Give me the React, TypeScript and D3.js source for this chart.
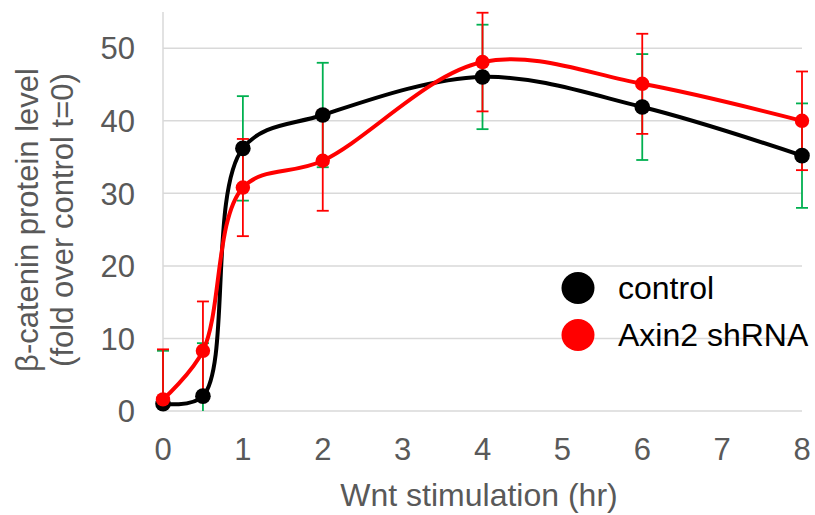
import React from "react";
import * as d3 from "d3";

// Time points (hours of Wnt stimulation)
const hours = [0, 0.5, 1, 2, 4, 6, 8];

// β-catenin level, fold over control at t=0
const controlValues = [1.0, 2.05, 36.2, 40.8, 46.05, 41.9, 35.2];
const controlErrors = [7.3, 7.3, 7.2, 7.2, 7.2, 7.3, 7.2];
const shrnaValues = [1.6, 8.3, 30.8, 34.5, 48.1, 45.1, 40.0];
const shrnaErrors = [6.9, 6.8, 6.7, 6.9, 6.8, 6.9, 6.8];

const xTicks = [0, 1, 2, 3, 4, 5, 6, 7, 8];
const yTicks = [0, 10, 20, 30, 40, 50];

const seriesNames = ["control", "Axin2 shRNA"];

const W = 815;
const H = 515;
const left = 163;
const right = 802;
const top = 12;
const bottom = 411;

const FONT = "'Liberation Sans', Arial, sans-serif";

export default function App() {
  const x = d3.scaleLinear().domain([0, 8]).range([left, right]);
  const y = d3.scaleLinear().domain([0, 55]).range([bottom, top]);

  const line = d3
    .line<number>()
    .x((_, i) => x(hours[i]))
    .y((v) => y(v))
    .curve(d3.curveCatmullRom.alpha(0.5));

  const series = [
    { values: controlValues, errors: controlErrors, color: "#000000", errColor: "#00b050", r: 7.8 },
    { values: shrnaValues, errors: shrnaErrors, color: "#ff0000", errColor: "#ff0000", r: 7.2 },
  ];

  const cap = 6;

  return (
    <svg
      width={W}
      height={H}
      style={{ position: "absolute", left: 0, top: 0, background: "#fff" }}
      fontFamily={FONT}
    >
      <defs>
        <clipPath id="plot-area">
          <rect x={left - 10} y={top - 1} width={right - left + 20} height={bottom - top + 1} />
        </clipPath>
      </defs>

      {/* horizontal gridlines */}
      {yTicks.slice(1).map((t) => (
        <line key={t} x1={left} x2={right} y1={y(t)} y2={y(t)} stroke="#d9d9d9" strokeWidth={1.5} />
      ))}

      {/* axes */}
      <line x1={left} x2={right} y1={bottom} y2={bottom} stroke="#d9d9d9" strokeWidth={1.5} />
      <line x1={left} x2={left} y1={top} y2={bottom} stroke="#d9d9d9" strokeWidth={1.5} />

      {/* y tick labels */}
      {yTicks.map((t) => (
        <text key={t} x={135} y={y(t)} dy="0.36em" textAnchor="end" fontSize={31} fill="#595959">
          {t}
        </text>
      ))}

      {/* x tick labels */}
      {xTicks.map((t) => (
        <text key={t} x={x(t)} y={460} textAnchor="middle" fontSize={31} fill="#595959">
          {t}
        </text>
      ))}

      {/* axis titles */}
      <text x={479} y={506} textAnchor="middle" fontSize={32} fill="#595959">
        Wnt stimulation (hr)
      </text>
      <g transform="translate(38,220) rotate(-90)">
        <text x={0} y={0} textAnchor="middle" fontSize={31} fill="#595959">
          β-catenin protein level
        </text>
        <text x={0} y={35} textAnchor="middle" fontSize={31} fill="#595959">
          (fold over control t=0)
        </text>
      </g>

      {/* error bars */}
      <g clipPath="url(#plot-area)">
        {series.map((s, si) => (
          <g key={si} stroke={s.errColor} strokeWidth={1.8}>
            {s.values.map((v, i) => {
              const cx = x(hours[i]);
              const hi = y(v + s.errors[i]);
              const lo = y(v - s.errors[i]);
              return (
                <g key={i}>
                  <line x1={cx} x2={cx} y1={hi} y2={lo} />
                  <line x1={cx - cap} x2={cx + cap} y1={hi} y2={hi} />
                  <line x1={cx - cap} x2={cx + cap} y1={lo} y2={lo} />
                </g>
              );
            })}
          </g>
        ))}
      </g>

      {/* smoothed lines with markers */}
      {series.map((s, si) => (
        <g key={si}>
          <path d={line(s.values) || ""} fill="none" stroke={s.color} strokeWidth={4} />
          {s.values.map((v, i) => (
            <circle key={i} cx={x(hours[i])} cy={y(v)} r={s.r} fill={s.color} />
          ))}
        </g>
      ))}

      {/* legend */}
      {series.map((s, si) => (
        <g key={si} transform={`translate(578,${288 + si * 47})`}>
          <ellipse cx={0} cy={0} rx={16.5} ry={16} fill={s.color} />
          <text x={40} y={0} dy="0.35em" fontSize={32} fill="#000">
            {seriesNames[si]}
          </text>
        </g>
      ))}
    </svg>
  );
}
